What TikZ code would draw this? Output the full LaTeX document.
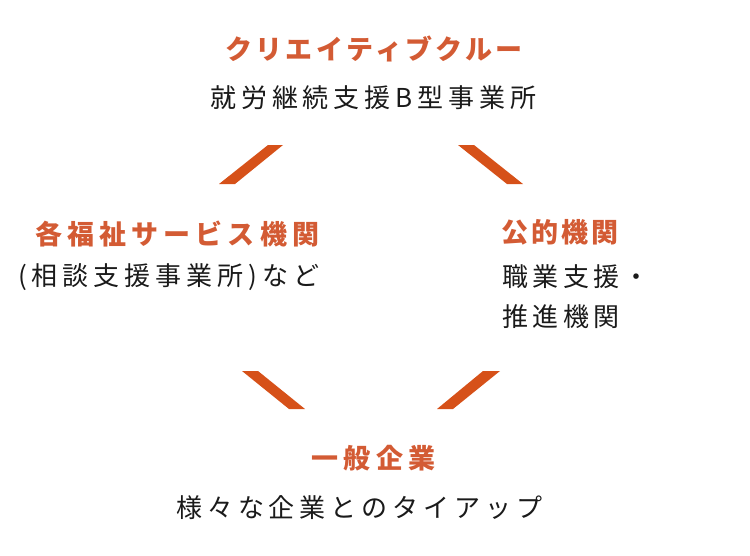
\documentclass[tikz,border=0pt]{standalone}
\usepackage{fontspec}
\usepackage{tikz}
\usepackage{xcolor}
\usetikzlibrary{positioning, calc}
\newfontfamily\jpfont{Noto Sans CJK JP}
\definecolor{BurntOrange}{HTML}{D65119}
\definecolor{RustText}{HTML}{D35B34}
\definecolor{InkBlack}{HTML}{1A1A1A}
\tikzset{
  heading/.style={inner sep=0pt, text=RustText,
                  font=\jpfont\addfontfeature{LetterSpace=#1}\bfseries\fontsize{27}{30}\selectfont},
  heading/.default=13,
  body/.style={inner sep=0pt, text=InkBlack,
               font=\jpfont\addfontfeature{LetterSpace=#1}\fontsize{26}{40}\selectfont},
  body/.default=19,
  bar/.style={fill=BurntOrange, draw=none}
}

\begin{document}
\begin{tikzpicture}[x=1pt, y=-1pt]
\useasboundingbox (0,0) rectangle (750,555);
% top group
\node[heading=12.6, anchor=west] (crew) at (225,48.5) {クリエイティブクルー};
\node[body, anchor=west] (crewsub) at (210,97.5) {就労継続支援B型事業所};
% left group
\node[heading=19, anchor=west] (welfare) at (35,234.5) {各福祉サービス機関};
\node[body, anchor=west] (welfaresub) at (18,277.5) {(相談支援事業所)など};
% right group
\node[heading=11, anchor=west] (public) at (501,232.5) {公的機関};
\node[body=17, anchor=north west, align=left] (publicsub) at (502,264)
    {職業支援・\\推進機関};
% bottom group
\node[heading=20, anchor=west] (company) at (311,458.5) {一般企業};
\node[body, anchor=west] (companysub) at (176,507.5) {様々な企業とのタイアップ};
% bars
\fill[bar] (268,145) -- (283,145) -- (235,184) -- (219,184) -- cycle;
\fill[bar] (458,145) -- (474,145) -- (523,184) -- (507,184) -- cycle;
\fill[bar] (242,371) -- (258,371) -- (305,409) -- (289,409) -- cycle;
\fill[bar] (483,371) -- (500,371) -- (453,409) -- (437,409) -- cycle;
\end{tikzpicture}
\end{document}
